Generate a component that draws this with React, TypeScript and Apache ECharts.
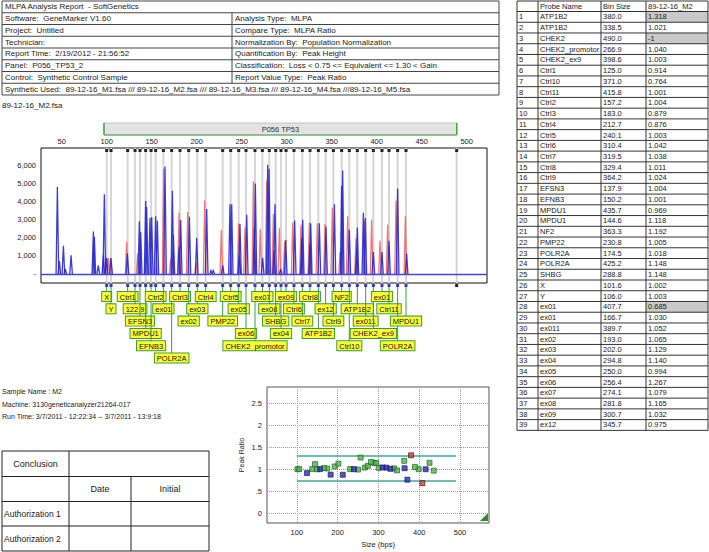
import React, { useEffect, useRef } from "react";
import * as echarts from "echarts";

const FONT = "'Liberation Sans', Arial, Helvetica, sans-serif";

// ---------- header ----------
const reportTitle = "MLPA Analysis Report  - SoftGenetics";
const headerLeft = [
  "Software:  GeneMarker V1.60",
  "Project:  Untitled",
  "Technician:",
  "Report Time:  2/19/2012 - 21:56:52",
  "Panel:  P056_TP53_2",
  "Control:  Synthetic Control Sample",
];
const headerRight = [
  "Analysis Type:  MLPA",
  "Compare Type:  MLPA Ratio",
  "Normalization By:  Population Normalization",
  "Quantification By:  Peak Height",
  "Classification:  Loss < 0.75 <= Equivalent <= 1.30 < Gain",
  "Report Value Type:  Peak Ratio",
];
const syntheticUsed =
  "Synthetic Used:  89-12-16_M1.fsa /// 89-12-16_M2.fsa /// 89-12-16_M3.fsa /// 89-12-16_M4.fsa ///89-12-16_M5.fsa";
const fileName = "89-12-16_M2.fsa";
const sampleInfo = [
  "Sample Name : M2",
  "Machine: 3130geneticanalyzer21264-017",
  "Run Time: 3/7/2011 - 12:22:34 -- 3/7/2011 - 13:9:18",
];

// ---------- electropherogram ----------
const sizeTicks = [50, 100, 150, 200, 250, 300, 350, 400, 450, 500];
const rfuTicks = [0, 1000, 2000, 3000, 4000, 5000, 6000];
const panelName = "P056 TP53";
const panelRange = [97, 489];

// [size (bp), height (RFU)]
const bluePeaks: [number, number][] = [
  [45.2, 4820], [47.4, 710], [51.9, 1560], [54, 280], [60.4, 1030],
  [85.2, 2350], [86.3, 2060], [90.7, 470], [96.3, 1030], [97.4, 4410],
  [100, 880], [104.8, 880], [123, 1130], [136.3, 2910], [137.8, 2310],
  [143.3, 4030], [144.4, 3700], [148.1, 3100], [150, 3150], [154.4, 3190],
  [156.3, 2950], [164.8, 5950], [173, 4600], [174.1, 2160], [180.4, 1500],
  [182.2, 2980], [191.9, 3170], [200, 2000], [211.1, 3600], [215.9, 190],
  [218.5, 190], [228.9, 470], [237, 3850], [238.9, 3850], [247.4, 1030],
  [248.1, 2760], [255.6, 3280], [264.1, 2530], [265.2, 5010], [273.3, 900],
  [278.9, 6040], [280.4, 5820], [285.9, 1310], [287, 3850], [293.3, 280],
  [298.9, 1880], [308.9, 2960], [316.7, 1970], [317.8, 3000], [325.9, 1690],
  [326.7, 2810], [336.3, 2810], [343.7, 2630], [353, 3850], [361.1, 4880],
  [362.2, 5720], [369.6, 2440], [377.8, 1310], [378.5, 2570], [385.2, 3380],
  [387.4, 3100], [396.3, 1220], [405.9, 1220], [413.7, 1840], [423.3, 4730],
  [433.3, 1130],
];
const redPeaks: [number, number][] = [
  [99.3, 880], [101.9, 880], [104.4, 880], [122.2, 1780], [134.4, 1130],
  [163.3, 5820], [171.1, 840], [180.4, 3380], [190, 3430], [199.3, 660],
  [208.9, 4070], [227.4, 2440], [246.7, 2810], [253.7, 2590], [263, 5120],
  [270.7, 2500], [277.8, 5160], [285.2, 3320], [291.9, 2530], [297.8, 1820],
  [306.7, 2850], [315.9, 2720], [325.2, 2850], [334.1, 2810], [342.6, 2760],
  [350.7, 3660], [359.3, 1220], [367.8, 3190], [377, 1970], [386.3, 2910],
  [394.4, 3000], [403.7, 1840], [412.2, 2720], [421.5, 4070], [431.9, 3190],
];

// probe markers shown in the trace (size as drawn, label row below the trace)
const markerNames = [
  "X", "Y", "Ctrl1", "122.9", "EFSN3", "MPDU1", "EFNB3", "Ctrl2", "ex01", "POLR2A",
  "Ctrl3", "ex02", "ex03", "Ctrl4", "PMP22", "Ctrl5", "ex05", "ex06", "CHEK2  promotor", "ex07",
  "ex08", "SHBG", "ex04", "ex09", "Ctrl6", "Ctrl7", "Ctrl8", "ATP1B2", "ex12", "Ctrl9",
  "NF2", "Ctrl10", "ATP1B2", "ex011", "CHEK2_ex9", "ex01", "Ctrl11", "POLR2A", "MPDU1", "CHEK2",
];
const markerSizes = [
  100, 104.8, 123.3, 131.5, 137, 143.3, 149.3, 154.4, 163, 172.2,
  181.5, 191.1, 200.7, 210, 228.9, 237.8, 246.7, 254.8, 264.8, 273,
  280.7, 287.8, 293.7, 299.3, 308.1, 317.4, 325.9, 335.2, 343.3, 351.9,
  361.1, 369.6, 378.5, 387.8, 396.3, 405.9, 413.7, 423.3, 432.6, 488.9,
];
const markerRows = [
  1, 2, 1, 2, 3, 4, 5, 1, 2, 6,
  1, 3, 2, 1, 3, 1, 2, 4, 5, 1,
  2, 3, 4, 1, 2, 3, 1, 4, 2, 3,
  1, 5, 2, 3, 4, 1, 2, 5, 3, 0,
];

// ---------- results table ----------
const tableHeader = ["", "Probe Name", "Bin Size", "89-12-16_M2"];
const probeNames = [
  "ATP1B2", "ATP1B2", "CHEK2", "CHEK2_promotor", "CHEK2_ex9", "Ctrl1", "Ctrl10", "Ctrl11", "Ctrl2", "Ctrl3",
  "Ctrl4", "Ctrl5", "Ctrl6", "Ctrl7", "Ctrl8", "Ctrl9", "EFSN3", "EFNB3", "MPDU1", "MPDU1",
  "NF2", "PMP22", "POLR2A", "POLR2A", "SHBG", "X", "Y", "ex01", "ex01", "ex011",
  "ex02", "ex03", "ex04", "ex05", "ex06", "ex07", "ex08", "ex09", "ex12",
];
const binSizes = [
  380.0, 338.5, 490.0, 266.9, 398.6, 125.0, 371.0, 415.8, 157.2, 183.0,
  212.7, 240.1, 310.4, 319.5, 329.4, 364.2, 137.9, 150.2, 435.7, 144.6,
  363.3, 230.8, 174.5, 425.2, 288.8, 101.6, 106.0, 407.7, 166.7, 389.7,
  193.0, 202.0, 294.8, 250.0, 256.4, 274.1, 281.8, 300.7, 345.7,
];
const peakRatios = [
  1.318, 1.021, -1, 1.04, 1.003, 0.914, 0.764, 1.001, 1.004, 0.879,
  0.876, 1.003, 1.042, 1.038, 1.011, 1.024, 1.004, 1.001, 0.969, 1.118,
  1.192, 1.005, 1.018, 1.148, 1.148, 1.002, 1.003, 0.685, 1.03, 1.052,
  1.065, 1.129, 1.14, 0.994, 1.267, 1.079, 1.165, 1.032, 0.975,
];
const lossCut = 0.75;
const gainCut = 1.3;
const cutFrom = 100;
const cutTo = 490;
const ratioTicks = [0, 0.5, 1, 1.5, 2, 2.5];
const ratioSizeTicks = [100, 200, 300, 400, 500];

// ---------- conclusion ----------
const conclusionRows = ["Conclusion", "", "Authorization 1", "Authorization 2"];
const conclusionCols = ["Date", "Initial"];

function txt(x: number, y: number, text: string, size: number, extra: any = {}) {
  return {
    type: "text",
    x,
    y,
    silent: true,
    style: {
      text,
      fontSize: size,
      fontFamily: FONT,
      fill: "#1a1a1a",
      align: "left",
      verticalAlign: "middle",
      ...extra,
    },
  };
}
function ln(x1: number, y1: number, x2: number, y2: number, color = "#444", w = 1) {
  return {
    type: "line",
    silent: true,
    shape: { x1, y1, x2, y2 },
    style: { stroke: color, lineWidth: w },
  };
}

function buildGraphic() {
  const g: any[] = [];
  // header table
  const hx0 = 2, hx1 = 499, hmid = 232;
  const rowH = 11.75;
  const rows = 8;
  const hy = (i: number) => 1 + i * rowH;
  g.push({ type: "rect", silent: true, shape: { x: hx0, y: hy(0), width: hx1 - hx0, height: rowH * rows }, style: { fill: "none", stroke: "#444", lineWidth: 1 } });
  for (let i = 1; i < rows; i++) g.push(ln(hx0, hy(i), hx1, hy(i)));
  g.push(ln(hmid, hy(1), hmid, hy(7)));
  g.push(txt(5, hy(0) + rowH / 2, reportTitle, 8));
  headerLeft.forEach((t, i) => g.push(txt(5, hy(i + 1) + rowH / 2, t, 8)));
  headerRight.forEach((t, i) => g.push(txt(hmid + 3, hy(i + 1) + rowH / 2, t, 8)));
  g.push(txt(5, hy(7) + rowH / 2, syntheticUsed, 8));

  g.push(txt(2, 105, fileName, 8));

  // results table
  const cols = [517, 538, 601, 646, 708];
  const ty0 = 1, th = 10.5, rh = 10.74;
  const nR = probeNames.length;
  const tyBottom = ty0 + th + nR * rh;
  // shaded cells
  peakRatios.forEach((r, i) => {
    if (r > gainCut || r < lossCut) {
      g.push({ type: "rect", silent: true, shape: { x: cols[3], y: ty0 + th + i * rh, width: cols[4] - cols[3], height: rh }, style: { fill: "#c9c9c9" } });
    }
  });
  g.push({ type: "rect", silent: true, shape: { x: cols[0], y: ty0, width: cols[4] - cols[0], height: tyBottom - ty0 }, style: { fill: "none", stroke: "#333", lineWidth: 1 } });
  cols.slice(1, 4).forEach((c) => g.push(ln(c, ty0, c, tyBottom, "#333")));
  g.push(ln(cols[0], ty0 + th, cols[4], ty0 + th, "#333"));
  for (let i = 1; i < nR; i++) g.push(ln(cols[0], ty0 + th + i * rh, cols[4], ty0 + th + i * rh, "#333"));
  tableHeader.forEach((t, j) => g.push(txt(cols[j] + 2, ty0 + th / 2, t, 7.5)));
  probeNames.forEach((n, i) => {
    const y = ty0 + th + i * rh + rh / 2;
    g.push(txt(cols[0] + 2, y, String(i + 1), 7.5));
    g.push(txt(cols[1] + 2, y, n, 7.5, { width: cols[2] - cols[1] - 2, overflow: "truncate", ellipsis: "" }));
    g.push(txt(cols[2] + 2, y, binSizes[i].toFixed(1), 7.5));
    const r = peakRatios[i];
    g.push(txt(cols[3] + 2, y, r < 0 ? String(r) : r.toFixed(3), 7.5));
  });

  // sample info
  sampleInfo.forEach((t, i) => g.push(txt(2, 391.5 + i * 12.5, t, 7)));

  // conclusion table
  const cx = [2, 69, 131, 209];
  const cy = [451, 476.5, 501.5, 526, 551];
  g.push({ type: "rect", silent: true, shape: { x: cx[0], y: cy[0], width: cx[3] - cx[0], height: cy[4] - cy[0] }, style: { fill: "none", stroke: "#222", lineWidth: 1 } });
  for (let i = 1; i < 4; i++) g.push(ln(cx[0], cy[i], cx[3], cy[i], "#222"));
  g.push(ln(cx[1], cy[0], cx[1], cy[4], "#222"));
  g.push(ln(cx[2], cy[1], cx[2], cy[4], "#222"));
  conclusionRows.forEach((t, i) => {
    if (!t) return;
    if (i === 0) g.push(txt((cx[0] + cx[1]) / 2, (cy[0] + cy[1]) / 2, t, 9, { align: "center" }));
    else g.push(txt(cx[0] + 2, (cy[i] + cy[i + 1]) / 2, t, 8.5));
  });
  conclusionCols.forEach((t, j) => g.push(txt((cx[j + 1] + cx[j + 2]) / 2, (cy[1] + cy[2]) / 2, t, 9, { align: "center" })));

  // corner marker of the ratio plot
  g.push({ type: "polygon", silent: true, shape: { points: [[480, 521], [488, 513], [488, 521]] }, style: { fill: "#2d8a2d" } });
  return g;
}

function peakRender(color: string) {
  return (params: any, api: any) => {
    const base = api.coord([api.value(0), 0]);
    const top = api.coord([api.value(0), api.value(1)]);
    return {
      type: "polyline",
      shape: { points: [[base[0] - 1.3, base[1]], [top[0], top[1]], [base[0] + 1.3, base[1]]] },
      style: { stroke: color, lineWidth: 1.3, fill: "none" },
    };
  };
}

function markerRender(params: any, api: any) {
  const cs = params.coordSys;
  const x = api.coord([api.value(0), 0])[0];
  const row = api.value(1);
  const name = markerNames[params.dataIndex];
  const bottom = cs.y + cs.height;
  const children: any[] = [
    { type: "line", shape: { x1: x, y1: cs.y, x2: x, y2: bottom }, style: { stroke: "#d6d6d6", lineWidth: 2 } },
    { type: "rect", shape: { x: x - 1.5, y: cs.y + 1, width: 3, height: 3 }, style: { fill: "#222" } },
    { type: "rect", shape: { x: x - 1.5, y: bottom + 1, width: 3, height: 3 }, style: { fill: row > 0 ? "#3a3ab8" : "#222" } },
  ];
  if (row > 0) {
    const boxTop = bottom + 9 + (row - 1) * 12.3;
    children.push({ type: "line", shape: { x1: x, y1: bottom + 4, x2: x, y2: boxTop }, style: { stroke: "#3c9a3c", lineWidth: 1 } });
    children.push({
      type: "text",
      style: {
        text: name,
        x,
        y: boxTop,
        align: "center",
        verticalAlign: "top",
        fontSize: 7.5,
        fontFamily: FONT,
        fill: "#111",
        backgroundColor: "#ffff33",
        borderColor: "#3c9a3c",
        borderWidth: 1,
        padding: [1, 2, 0, 2],
      },
    });
  }
  return { type: "group", children };
}

function panelRender(params: any, api: any) {
  const cs = params.coordSys;
  const x1 = api.coord([api.value(0), 0])[0];
  const x2 = api.coord([api.value(1), 0])[0];
  const top = cs.y - 25;
  const h = 12;
  const green = "#4aa34a";
  return {
    type: "group",
    children: [
      { type: "rect", shape: { x: x1, y: top, width: x2 - x1, height: h }, style: { fill: "#e3e3e3", stroke: "#c4c4c4", lineWidth: 1 } },
      { type: "line", shape: { x1, y1: top, x2: x1, y2: top + h }, style: { stroke: green, lineWidth: 1.5 } },
      { type: "line", shape: { x1: x2, y1: top, x2, y2: top + h }, style: { stroke: green, lineWidth: 1.5 } },
      { type: "line", shape: { x1, y1: top + h, x2, y2: top + h }, style: { stroke: green, lineWidth: 1.2 } },
      { type: "text", style: { text: panelName, x: (x1 + x2) / 2, y: top + h / 2 + 0.5, align: "center", verticalAlign: "middle", fontSize: 7.5, fontFamily: FONT, fill: "#333" } },
    ],
  };
}

export default function App() {
  const ref = useRef<HTMLDivElement>(null);
  useEffect(() => {
    if (!ref.current) return;
    const chart = echarts.init(ref.current, undefined, { renderer: "svg" });

    const pts = binSizes
      .map((b, i) => ({ b, r: peakRatios[i], n: probeNames[i] }))
      .filter((p) => p.r >= 0);
    const isOut = (p: any) => p.r > gainCut || p.r < lossCut;
    const redPts = pts.filter(isOut).map((p) => [p.b, p.r]);
    const bluePts = pts.filter((p) => !isOut(p) && p.n.startsWith("Ctrl")).map((p) => [p.b, p.r]);
    const greenPts = pts.filter((p) => !isOut(p) && !p.n.startsWith("Ctrl")).map((p) => [p.b, p.r]);

    const axisText = { fontSize: 7.5, fontFamily: FONT, color: "#222" };

    chart.setOption({
      animation: false,
      backgroundColor: "#ffffff",
      textStyle: { fontFamily: FONT },
      grid: [
        { left: 41, top: 148, width: 446, height: 135, show: true, borderColor: "#111", borderWidth: 1, backgroundColor: "#fff", containLabel: false },
        { left: 267, top: 387, width: 222, height: 136, show: true, borderColor: "#555", borderWidth: 1, backgroundColor: "#fff", containLabel: false },
      ],
      xAxis: [
        {
          type: "value", gridIndex: 0, position: "top", min: 27, max: 522.6,
          axisLine: { show: false }, axisTick: { show: false }, splitLine: { show: false },
          axisLabel: { ...axisText, margin: 3, customValues: sizeTicks },
        },
        {
          type: "value", gridIndex: 1, min: 27, max: 571,
          name: "Size (bps)", nameLocation: "middle", nameGap: 17,
          nameTextStyle: { fontSize: 7.5, fontFamily: FONT, color: "#222" },
          axisLine: { show: false },
          axisTick: { show: false, customValues: ratioSizeTicks },
          splitLine: { show: true, lineStyle: { type: "dotted", color: "#9a9a9a", width: 1 } },
          axisLabel: { ...axisText, margin: 5, customValues: ratioSizeTicks },
        },
      ],
      yAxis: [
        {
          type: "value", gridIndex: 0, min: -500, max: 6970,
          axisLine: { show: false }, axisTick: { show: false }, splitLine: { show: false },
          axisLabel: {
            ...axisText, margin: 5, customValues: rfuTicks,
            formatter: (v: number) => (v === 0 ? "-" : v.toLocaleString("en-US")),
          },
        },
        {
          type: "value", gridIndex: 1, min: -0.22, max: 2.87,
          name: "Peak Ratio", nameLocation: "middle", nameGap: 22,
          nameTextStyle: { fontSize: 7, fontFamily: FONT, color: "#222" },
          axisLine: { show: false },
          axisTick: { show: false, customValues: ratioTicks },
          splitLine: { show: true, lineStyle: { type: "dotted", color: "#9a9a9a", width: 1 } },
          axisLabel: {
            ...axisText, margin: 5, customValues: ratioTicks,
            formatter: (v: number) => (v === 0.5 ? ".5" : String(v)),
          },
        },
      ],
      series: [
        {
          type: "custom", name: "panel", xAxisIndex: 0, yAxisIndex: 0, clip: false, silent: true, z: 1,
          renderItem: panelRender, data: [panelRange],
        },
        {
          type: "custom", name: "probes", xAxisIndex: 0, yAxisIndex: 0, clip: false, silent: true, z: 2,
          renderItem: markerRender,
          data: markerSizes.map((s, i) => [s, markerRows[i]]),
        },
        {
          type: "custom", name: "red", xAxisIndex: 0, yAxisIndex: 0, clip: true, silent: true, z: 3,
          renderItem: peakRender("rgba(238,96,96,0.85)"), data: redPeaks,
        },
        {
          type: "custom", name: "blue", xAxisIndex: 0, yAxisIndex: 0, clip: true, silent: true, z: 4,
          renderItem: peakRender("rgba(40,40,205,0.9)"), data: bluePeaks,
          markLine: {
            silent: true, symbol: ["none", "none"], label: { show: false },
            lineStyle: { color: "#4646d2", width: 1.3, type: "solid" },
            data: [{ yAxis: 0 }],
          },
        },
        {
          type: "scatter", name: "green", xAxisIndex: 1, yAxisIndex: 1, symbol: "rect", symbolSize: 5, z: 5,
          itemStyle: { color: "#49b649", borderColor: "#1e5a1e", borderWidth: 0.8 },
          data: greenPts,
          markLine: {
            silent: true, symbol: ["none", "none"], label: { show: false },
            lineStyle: { color: "#3fa89a", width: 1.5, type: "solid" },
            data: [
              [{ coord: [cutFrom, gainCut] }, { coord: [cutTo, gainCut] }],
              [{ coord: [cutFrom, lossCut] }, { coord: [cutTo, lossCut] }],
            ],
          },
        },
        {
          type: "scatter", name: "control", xAxisIndex: 1, yAxisIndex: 1, symbol: "rect", symbolSize: 5, z: 6,
          itemStyle: { color: "#2b2bb0", borderColor: "#14145a", borderWidth: 0.8 },
          data: bluePts,
        },
        {
          type: "scatter", name: "out", xAxisIndex: 1, yAxisIndex: 1, symbol: "rect", symbolSize: 5, z: 7,
          itemStyle: { color: "#c83a3a", borderColor: "#3a1010", borderWidth: 0.8 },
          data: redPts,
        },
      ],
      graphic: buildGraphic(),
    });
    return () => chart.dispose();
  }, []);
  return (
    <div
      ref={ref}
      style={{ position: "absolute", left: 0, top: 0, width: 709, height: 552, background: "#fff" }}
    />
  );
}
